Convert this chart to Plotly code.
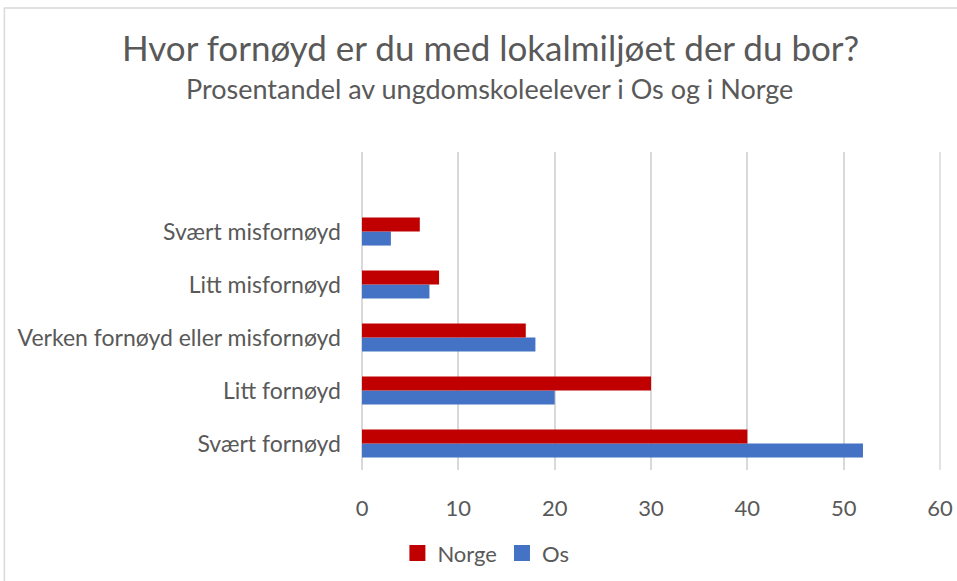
import plotly.graph_objects as go

# Response categories, listed bottom to top
categories = [
    "Svært fornøyd",
    "Litt fornøyd",
    "Verken fornøyd eller misfornøyd",
    "Litt misfornøyd",
    "Svært misfornøyd",
]
norge = [40, 30, 17, 8, 6]
os_values = [52, 20, 18, 7, 3]
x_ticks = [0, 10, 20, 30, 40, 50, 60]

positions = list(range(len(categories)))

TEXT = "#595959"
GRID = "#d9d9d9"
FONT = "Lato"
RED = "#C00000"
BLUE = "#4472C4"

fig = go.Figure()
fig.add_trace(go.Bar(
    name="Os", y=positions, x=os_values, orientation="h",
    marker=dict(color=BLUE, line=dict(width=0)), showlegend=False,
))
fig.add_trace(go.Bar(
    name="Norge", y=positions, x=norge, orientation="h",
    marker=dict(color=RED, line=dict(width=0)), showlegend=False,
))
# Legend entries with larger square swatches
for name, color in [("Norge", RED), ("Os", BLUE)]:
    fig.add_trace(go.Scatter(
        name=name, x=[None], y=[None], mode="markers",
        marker=dict(symbol="square", size=17, color=color),
    ))

fig.update_layout(
    width=957, height=581,
    margin=dict(l=362, r=16, t=152, b=111, autoexpand=False),
    paper_bgcolor="white", plot_bgcolor="white",
    barmode="group", bargap=0.47, bargroupgap=0,
    font=dict(family=FONT, color=TEXT),
    showlegend=True,
    legend=dict(
        orientation="h",
        x=0.214, xanchor="center", y=-0.262, yanchor="middle",
        font=dict(size=22, color=TEXT), itemwidth=30,
    ),
    xaxis=dict(
        range=[0, 60.1], tickvals=x_ticks, showgrid=True, gridcolor=GRID,
        gridwidth=1.5, zeroline=True, zerolinecolor=GRID, zerolinewidth=1.5,
        showline=False, automargin=False,
        tickfont=dict(size=22, color=TEXT), ticklabelstandoff=23,
    ),
    yaxis=dict(
        range=[-0.5, 5.5], tickvals=positions, ticktext=categories,
        showgrid=False, zeroline=False, showline=False, automargin=False,
        tickfont=dict(size=23, color=TEXT), ticklabelstandoff=20,
    ),
    annotations=[
        dict(text="Hvor fornøyd er du med lokalmiljøet der du bor?",
             xref="paper", yref="paper", x=(490 - 362) / 578, y=(470 - 47) / 318,
             xanchor="center", yanchor="middle", showarrow=False,
             font=dict(size=35, color=TEXT, family=FONT)),
        dict(text="Prosentandel av ungdomskoleelever i Os og i Norge",
             xref="paper", yref="paper", x=(489 - 362) / 578, y=(470 - 88) / 318,
             xanchor="center", yanchor="middle", showarrow=False,
             font=dict(size=27, color=TEXT, family=FONT)),
    ],
    shapes=[
        # outer chart frame
        dict(type="rect", xref="paper", yref="paper",
             x0=(5 - 362) / 578, x1=2.0, y0=-1.0, y1=(470 - 8) / 318,
             line=dict(color="#d9d9d9", width=1.5), fillcolor="rgba(0,0,0,0)",
             layer="below"),
        # gridline at the last tick, on the plot edge
        dict(type="line", xref="x", yref="paper",
             x0=x_ticks[-1], x1=x_ticks[-1], y0=0, y1=1,
             line=dict(color=GRID, width=1.5), layer="below"),
    ],
)

fig.write_html("out.html")
